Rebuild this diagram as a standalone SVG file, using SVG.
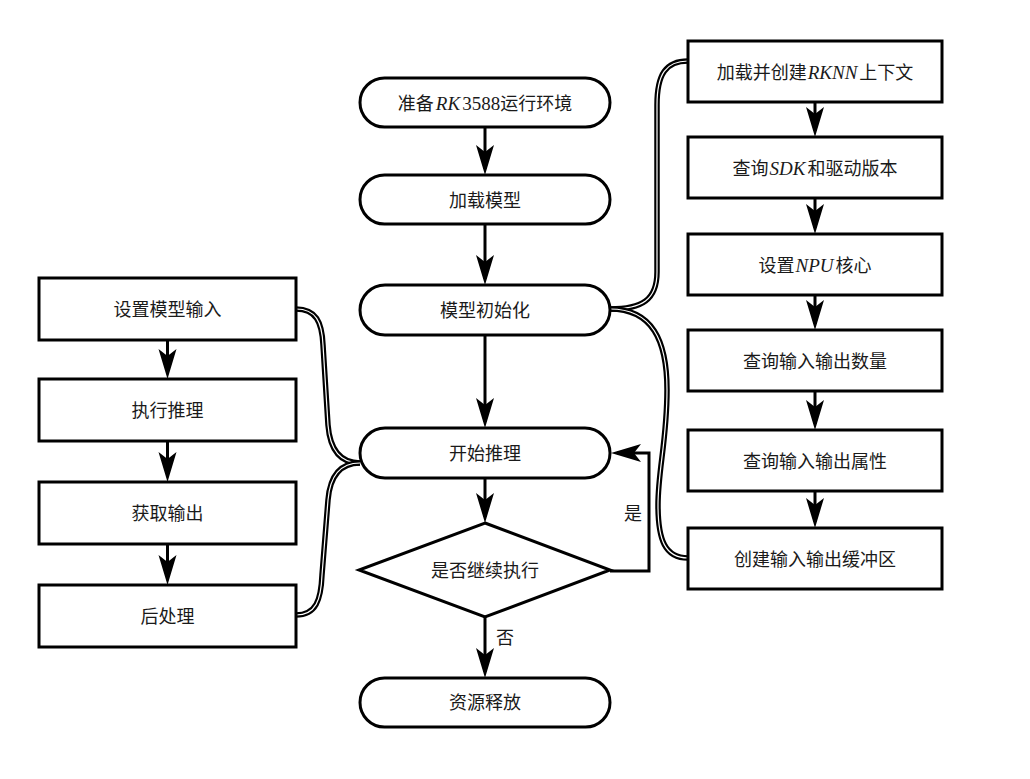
<svg xmlns="http://www.w3.org/2000/svg" width="1030" height="779" viewBox="0 0 1030 779">
<style>
  .box { fill: #fff; stroke: #000; stroke-width: 3; }
  .t { font-family: "Noto Sans CJK SC", "Noto Sans", sans-serif; font-size: 18px; fill: #1a1a1a; text-anchor: middle; }
  .m { font-family: "Liberation Serif", serif; font-style: italic; font-size: 19px; }
  .r { font-family: "Liberation Serif", serif; font-size: 19px; }
  .ln { fill: none; stroke: #000; stroke-width: 3; }
  .dblo { fill: none; stroke: #000; stroke-width: 5.5; }
  .dbli { fill: none; stroke: #fff; stroke-width: 1.2; }
</style>
<defs>
  <marker id="arr" markerUnits="userSpaceOnUse" markerWidth="31" markerHeight="19" refX="24" refY="9" orient="auto" viewBox="0 0 31 19">
    <path d="M0,0 L30,9 L0,18 L7,9 Z" fill="#000"/>
  </marker>
</defs>
<rect width="1030" height="779" fill="#fff"/>

<g id="connectors">
  <!-- center column -->
  <line class="ln" x1="485" y1="127" x2="485" y2="169" marker-end="url(#arr)"/>
  <line class="ln" x1="485" y1="224" x2="485" y2="279" marker-end="url(#arr)"/>
  <line class="ln" x1="485" y1="335" x2="485" y2="422" marker-end="url(#arr)"/>
  <line class="ln" x1="485" y1="478" x2="485" y2="517" marker-end="url(#arr)"/>
  <line class="ln" x1="485" y1="617" x2="485" y2="672" marker-end="url(#arr)"/>
  <!-- loop back -->
  <path class="ln" d="M610,571 H649 V453 H617" marker-end="url(#arr)"/>
  <!-- right column -->
  <line class="ln" x1="815" y1="102" x2="815" y2="131" marker-end="url(#arr)"/>
  <line class="ln" x1="815" y1="198" x2="815" y2="228" marker-end="url(#arr)"/>
  <line class="ln" x1="815" y1="295" x2="815" y2="324" marker-end="url(#arr)"/>
  <line class="ln" x1="815" y1="391" x2="815" y2="424" marker-end="url(#arr)"/>
  <line class="ln" x1="815" y1="491" x2="815" y2="522" marker-end="url(#arr)"/>
  <!-- left column -->
  <line class="ln" x1="167.5" y1="340" x2="167.5" y2="373" marker-end="url(#arr)"/>
  <line class="ln" x1="167.5" y1="441" x2="167.5" y2="476" marker-end="url(#arr)"/>
  <line class="ln" x1="167.5" y1="544" x2="167.5" y2="579" marker-end="url(#arr)"/>
  <!-- double-line braces right -->
  <path class="dblo" d="M610,309 C642,309 657,300 657,272 L657,105 C657,74 666,61 688,61"/>
  <path class="dbli" d="M610,309 C642,309 657,300 657,272 L657,105 C657,74 666,61 688,61"/>
  <path class="dblo" d="M610,309 C652,309 667,340 667,390 C667,440 658,470 658,505 C658,540 665,558 688,558"/>
  <path class="dbli" d="M610,309 C652,309 667,340 667,390 C667,440 658,470 658,505 C658,540 665,558 688,558"/>
  <!-- double-line braces left -->
  <path class="dblo" d="M296,309 C316,309 322,322 323,345 L328,425 C330,450 340,463 360,463"/>
  <path class="dbli" d="M296,309 C316,309 322,322 323,345 L328,425 C330,450 340,463 360,463"/>
  <path class="dblo" d="M296,615 C316,615 321,600 322,575 L328,500 C330,476 340,463 360,463"/>
  <path class="dbli" d="M296,615 C316,615 321,600 322,575 L328,500 C330,476 340,463 360,463"/>
</g>

<!-- center column -->
<g id="n-prepare">
  <rect class="box" x="360" y="78" width="250" height="49" rx="24.5"/>
  <text class="t" x="485" y="109.5">准备<tspan class="m" dx="2">RK</tspan><tspan class="r" dx="2">3588</tspan>运行环境</text>
</g>
<g id="n-load">
  <rect class="box" x="360" y="175" width="250" height="49" rx="24.5"/>
  <text class="t" x="485" y="206.5">加载模型</text>
</g>
<g id="n-init">
  <rect class="box" x="360" y="285" width="250" height="50" rx="25"/>
  <text class="t" x="485" y="317">模型初始化</text>
</g>
<g id="n-infer">
  <rect class="box" x="360" y="428" width="250" height="50" rx="25"/>
  <text class="t" x="485" y="460">开始推理</text>
</g>
<g id="n-decide">
  <polygon class="box" points="485,523 610,570 485,617 359,570"/>
  <text class="t" x="485" y="577">是否继续执行</text>
</g>
<g id="n-release">
  <rect class="box" x="360" y="678" width="250" height="49" rx="24.5"/>
  <text class="t" x="485" y="709">资源释放</text>
</g>

<!-- right column -->
<g id="r1">
  <rect class="box" x="688" y="41" width="254" height="61"/>
  <text class="t" x="815" y="78.5">加载并创建<tspan class="m" dx="1">RKNN</tspan><tspan dx="2">上下文</tspan></text>
</g>
<g id="r2">
  <rect class="box" x="688" y="137" width="254" height="61"/>
  <text class="t" x="815" y="174.5">查询<tspan class="m" dx="1">SDK</tspan><tspan dx="2">和驱动版本</tspan></text>
</g>
<g id="r3">
  <rect class="box" x="688" y="234" width="254" height="61"/>
  <text class="t" x="815" y="271.5">设置<tspan class="m" dx="1">NPU</tspan><tspan dx="2">核心</tspan></text>
</g>
<g id="r4">
  <rect class="box" x="688" y="330" width="254" height="61"/>
  <text class="t" x="815" y="367.5">查询输入输出数量</text>
</g>
<g id="r5">
  <rect class="box" x="688" y="430" width="254" height="61"/>
  <text class="t" x="815" y="467.5">查询输入输出属性</text>
</g>
<g id="r6">
  <rect class="box" x="688" y="528" width="254" height="61"/>
  <text class="t" x="815" y="565.5">创建输入输出缓冲区</text>
</g>

<!-- left column -->
<g id="l1">
  <rect class="box" x="39" y="278" width="257" height="62"/>
  <text class="t" x="167.5" y="316">设置模型输入</text>
</g>
<g id="l2">
  <rect class="box" x="39" y="379" width="257" height="62"/>
  <text class="t" x="167.5" y="417">执行推理</text>
</g>
<g id="l3">
  <rect class="box" x="39" y="482" width="257" height="62"/>
  <text class="t" x="167.5" y="520">获取输出</text>
</g>
<g id="l4">
  <rect class="box" x="39" y="585" width="257" height="62"/>
  <text class="t" x="167.5" y="623">后处理</text>
</g>

<g id="labels">
  <text class="t" x="633" y="520">是</text>
  <text class="t" x="505" y="644">否</text>
</g>
</svg>
